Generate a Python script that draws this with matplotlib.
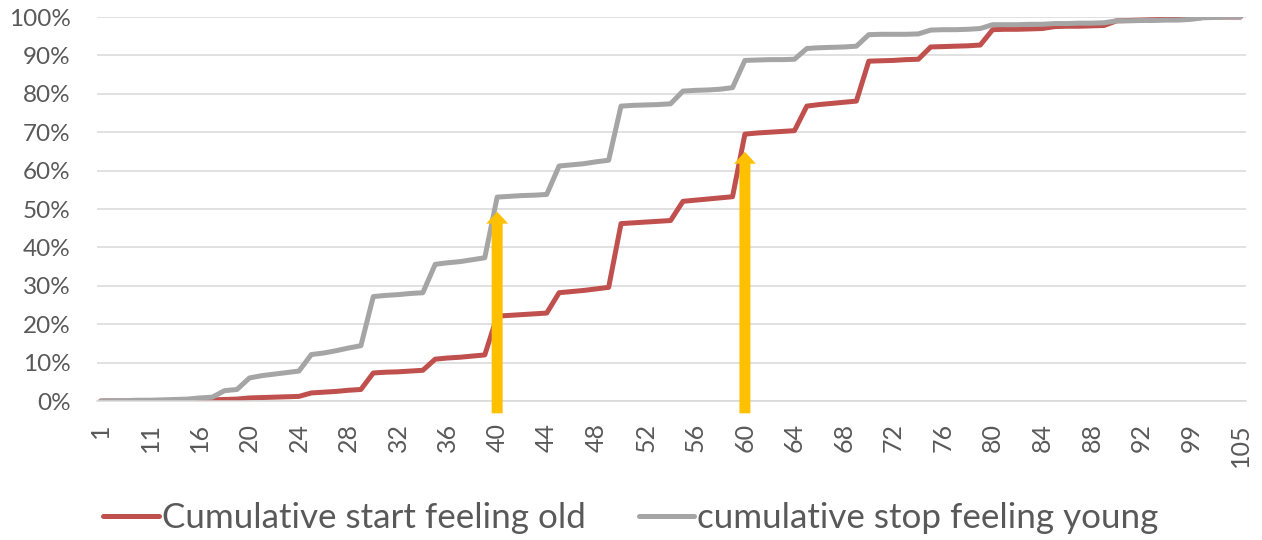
import numpy as np
import matplotlib.pyplot as plt

plt.rcParams['font.family'] = ['Lato', 'DejaVu Sans']

# age categories on the x axis (only every 4th one gets a label)
ages = [1, 5, 8, 10, 11, 12, 14, 15,
        16, 17, 18, 19, 20, 21, 22, 23, 24, 25, 26, 27, 28, 29,
        30, 31, 32, 33, 34, 35, 36, 37, 38, 39, 40, 41, 42, 43,
        44, 45, 46, 47, 48, 49, 50, 51, 52, 53, 54, 55, 56, 57,
        58, 59, 60, 61, 62, 63, 64, 65, 66, 67, 68, 69, 70, 71,
        72, 73, 74, 75, 76, 77, 78, 79, 80, 81, 82, 83, 84, 85,
        86, 87, 88, 89, 90, 91, 92,
        94, 95, 96, 99, 100, 101, 103, 105]

# cumulative %, one value per age above
start_old = [0.0, 0.0, 0.0, 0.0, 0.0, 0.0, 0.1, 0.1,
             0.2, 0.3, 0.4, 0.5, 0.8, 0.9, 1.0, 1.1, 1.2, 2.1, 2.3, 2.5, 2.8, 3.0,
             7.3, 7.5, 7.6, 7.8, 8.0, 10.9, 11.2, 11.4, 11.7, 12.0, 22.1, 22.3, 22.5, 22.7,
             22.9, 28.2, 28.5, 28.8, 29.2, 29.6, 46.2, 46.4, 46.6, 46.8, 47.0, 52.0, 52.3, 52.6,
             52.9, 53.2, 69.5, 69.8, 70.0, 70.2, 70.4, 76.8, 77.2, 77.5, 77.8, 78.1, 88.5, 88.6,
             88.7, 88.9, 89.0, 92.2, 92.3, 92.4, 92.5, 92.7, 96.7, 96.8, 96.8, 96.9, 97.0, 97.5,
             97.6, 97.6, 97.7, 97.8, 99.0, 99.1, 99.2,
             99.3, 99.4, 99.4, 99.6, 99.9, 100.0, 100.0, 100.0]

stop_young = [0.0, 0.1, 0.1, 0.2, 0.2, 0.3, 0.4, 0.5,
              0.8, 1.0, 2.7, 3.0, 6.0, 6.6, 7.0, 7.4, 7.8, 12.1, 12.5, 13.1, 13.8, 14.4,
              27.2, 27.5, 27.7, 28.0, 28.2, 35.6, 36.0, 36.3, 36.8, 37.3, 53.1, 53.3, 53.5, 53.6,
              53.8, 61.2, 61.5, 61.8, 62.3, 62.7, 76.8, 77.0, 77.1, 77.2, 77.4, 80.7, 80.9, 81.0,
              81.2, 81.6, 88.7, 88.8, 88.9, 88.9, 89.0, 91.8, 92.0, 92.1, 92.2, 92.4, 95.4, 95.5,
              95.5, 95.5, 95.6, 96.6, 96.7, 96.7, 96.8, 97.0, 98.0, 98.0, 98.0, 98.1, 98.1, 98.3,
              98.3, 98.4, 98.4, 98.5, 99.0, 99.0, 99.1,
              99.1, 99.2, 99.2, 99.4, 99.8, 99.9, 100.0, 100.0]

# yellow arrows: (age, tip value in %)
arrow_ages = [40, 60]
arrow_tips = [49.3, 64.9]

x = np.arange(len(ages))

fig = plt.figure(figsize=(12.62, 5.4), dpi=100)
ax = fig.add_axes([0.0769, 0.2574, 0.9104, 0.7111])

ax.plot(x, start_old, color='#C0504D', lw=3.6, solid_joinstyle='round',
        solid_capstyle='round', label='Cumulative start feeling old')
ax.plot(x, stop_young, color='#A5A5A5', lw=3.6, solid_joinstyle='round',
        solid_capstyle='round', label='cumulative stop feeling young')

for a, tip in zip(arrow_ages, arrow_tips):
    xi = ages.index(a)
    ax.annotate('', xy=(xi, tip), xytext=(xi, -3.2),
                arrowprops=dict(arrowstyle='simple,head_length=0.78,head_width=1.44,tail_width=0.72',
                                mutation_scale=11, color='#FFC000', lw=0,
                                shrinkA=0, shrinkB=0),
                annotation_clip=False, zorder=5)

ax.set_xlim(-0.3, 92.45)
ax.set_ylim(0, 100)
ax.set_yticks(range(0, 101, 10))
ax.set_yticklabels([f'{v}%' for v in range(0, 101, 10)])
ax.set_xticks(x[::4])
ax.set_xticklabels([str(a) for a in ages[::4]], rotation=90)

ax.yaxis.grid(True, color='#D9D9D9', lw=1.1)
ax.set_axisbelow(True)
for s in ['top', 'right', 'left']:
    ax.spines[s].set_visible(False)
ax.spines['bottom'].set_color('#D9D9D9')
ax.spines['bottom'].set_linewidth(1.1)
ax.tick_params(axis='both', length=0, colors='#595959')
ax.tick_params(axis='y', labelsize=17.5, pad=19)
ax.tick_params(axis='x', labelsize=18, pad=16)

fig.legend(loc='center', bbox_to_anchor=(0.5, 0.041), ncol=2, frameon=False,
           fontsize=25.2, labelcolor='#595959', handlelength=1.58,
           handletextpad=0.1, columnspacing=1.5)

plt.savefig('out.png', dpi=100)
